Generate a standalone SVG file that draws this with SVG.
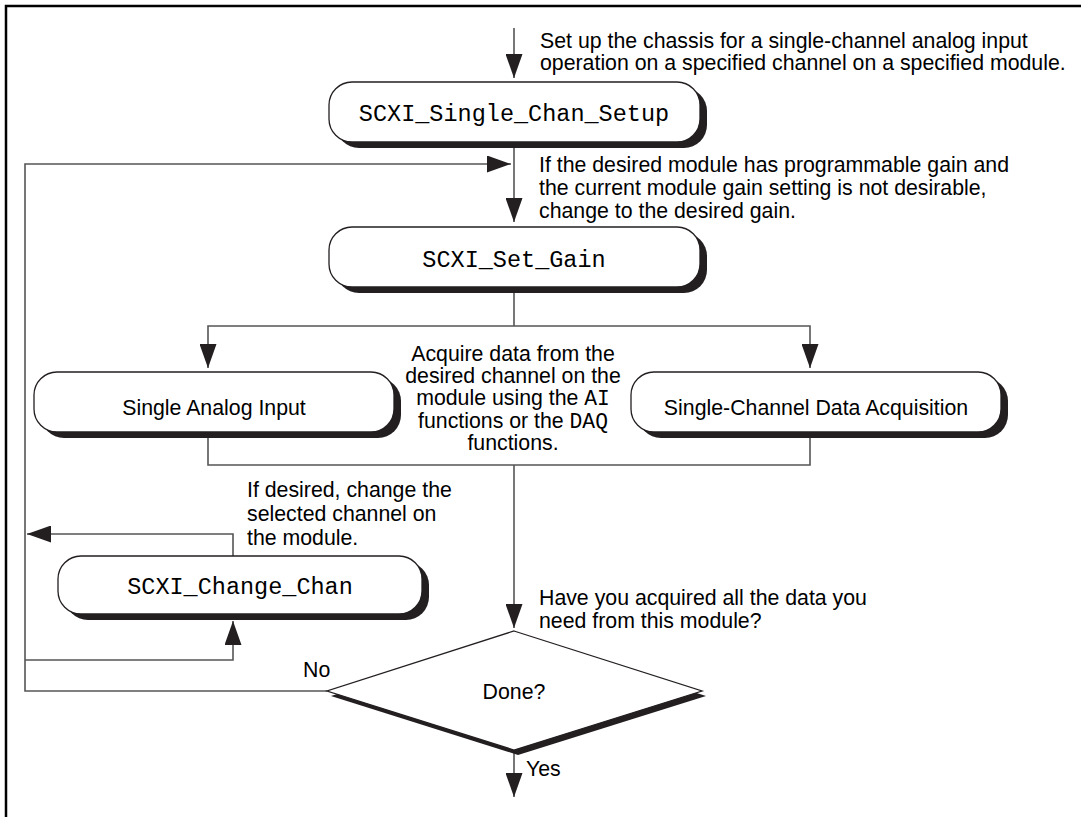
<svg xmlns="http://www.w3.org/2000/svg" width="1081" height="817" viewBox="0 0 1081 817">
<style>
  .t { font-family: "Liberation Sans", Arial, Helvetica, sans-serif; font-size: 21.3px; fill: #000; }
  .m { font-family: "Courier New", "Liberation Mono", monospace; font-size: 23.5px; fill: #000; }
  .mi { font-family: "Courier New", "Liberation Mono", monospace; font-size: 21.3px; }
  .box { fill: #fff; stroke: #231f20; stroke-width: 1.3; }
  .shadow { fill: #231f20; }
  .c { fill: none; stroke: #555; stroke-width: 1.6; }
  .frame { fill: none; stroke: #000; stroke-width: 2.5; }
</style>
<defs>
  <marker id="arr" markerUnits="userSpaceOnUse" markerWidth="24" markerHeight="17" refX="24" refY="8.5" orient="auto">
    <path d="M0,0 L24,8.5 L0,17 z" fill="#231f20"/>
  </marker>
</defs>
<rect width="1081" height="817" fill="#fff"/>
<path class="frame" d="M6,817 V6 H1081"/>

<g id="connectors">
  <path class="c" d="M514,28 V78" marker-end="url(#arr)"/>
  <path class="c" d="M514,142 V222" marker-end="url(#arr)"/>
  <path class="c" d="M327,691 H25 V164 H511" marker-end="url(#arr)"/>
  <path class="c" d="M514,287 V326"/>
  <path class="c" d="M514,326 H208 V368" marker-end="url(#arr)"/>
  <path class="c" d="M514,326 H810 V368" marker-end="url(#arr)"/>
  <path class="c" d="M208,432 V465 H810 V432"/>
  <path class="c" d="M514,465 V628" marker-end="url(#arr)"/>
  <path class="c" d="M25,660 H233 V621" marker-end="url(#arr)"/>
  <path class="c" d="M233,556 V534 H27" marker-end="url(#arr)"/>
  <path class="c" d="M514,750 V797" marker-end="url(#arr)"/>
</g>

<g id="node-setup">
  <rect class="shadow" x="336" y="88" width="371" height="60" rx="23"/>
  <rect class="box" x="329" y="82" width="371" height="60" rx="23"/>
  <text class="m" x="514" y="121" text-anchor="middle">SCXI_Single_Chan_Setup</text>
</g>

<g id="node-setgain">
  <rect class="shadow" x="336" y="233" width="371" height="60" rx="23"/>
  <rect class="box" x="329" y="227" width="371" height="60" rx="23"/>
  <text class="m" x="514" y="267" text-anchor="middle">SCXI_Set_Gain</text>
</g>

<g id="node-single-analog">
  <rect class="shadow" x="41" y="378" width="360" height="60" rx="23"/>
  <rect class="box" x="34" y="372" width="360" height="60" rx="23"/>
  <text class="t" x="214" y="415" text-anchor="middle">Single Analog Input</text>
</g>

<g id="node-single-daq">
  <rect class="shadow" x="638" y="378" width="370" height="60" rx="23"/>
  <rect class="box" x="631" y="372" width="370" height="60" rx="23"/>
  <text class="t" x="816" y="415" text-anchor="middle">Single-Channel Data Acquisition</text>
</g>

<g id="node-change-chan">
  <rect class="shadow" x="65" y="562" width="364" height="58" rx="23"/>
  <rect class="box" x="58" y="556" width="364" height="58" rx="23"/>
  <text class="m" x="240" y="594" text-anchor="middle">SCXI_Change_Chan</text>
</g>

<g id="node-done">
  <polygon class="shadow" points="518,636 706,696 518,755 331,696"/>
  <polygon class="box" points="514,631 702,691 514,750 327,691"/>
  <text class="t" x="514" y="699" text-anchor="middle">Done?</text>
</g>

<g id="labels">
  <text class="t" x="540" y="48">Set up the chassis for a single-channel analog input</text>
  <text class="t" x="540" y="70">operation on a specified channel on a specified module.</text>
  <text class="t" x="539" y="172">If the desired module has programmable gain and</text>
  <text class="t" x="539" y="195">the current module gain setting is not desirable,</text>
  <text class="t" x="539" y="218">change to the desired gain.</text>
  <text class="t" x="513" y="361" text-anchor="middle">Acquire data from the</text>
  <text class="t" x="513" y="383" text-anchor="middle">desired channel on the</text>
  <text class="t" x="513" y="405" text-anchor="middle">module using the <tspan class="mi">AI</tspan></text>
  <text class="t" x="513" y="428" text-anchor="middle">functions or the <tspan class="mi">DAQ</tspan></text>
  <text class="t" x="513" y="450" text-anchor="middle">functions.</text>
  <text class="t" x="247" y="497">If desired, change the</text>
  <text class="t" x="247" y="521">selected channel on</text>
  <text class="t" x="247" y="545">the module.</text>
  <text class="t" x="539" y="605">Have you acquired all the data you</text>
  <text class="t" x="539" y="628">need from this module?</text>
  <text class="t" x="303" y="677">No</text>
  <text class="t" x="526" y="776">Yes</text>
</g>
</svg>
